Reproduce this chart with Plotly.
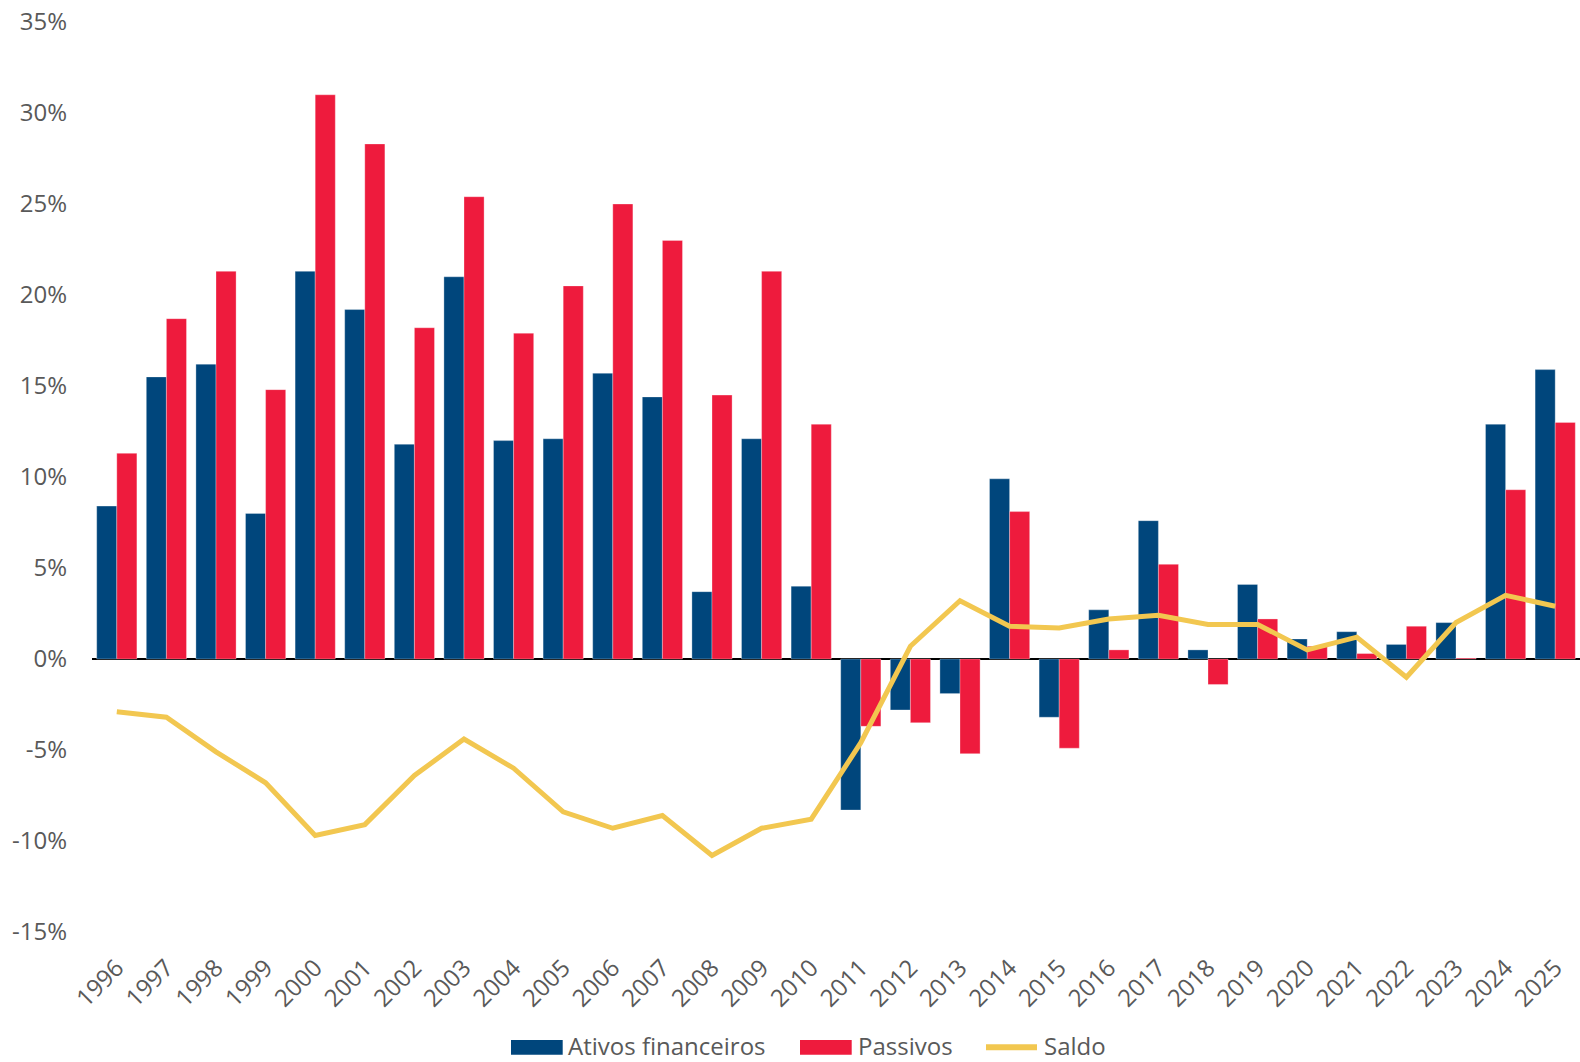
import plotly.graph_objects as go

years = [str(y) for y in range(1996, 2026)]

ativos = [8.4, 15.5, 16.2, 8.0, 21.3, 19.2, 11.8, 21.0, 12.0, 12.1, 15.7, 14.4, 3.7, 12.1, 4.0,
          -8.3, -2.8, -1.9, 9.9, -3.2, 2.7, 7.6, 0.5, 4.1, 1.1, 1.5, 0.8, 2.0, 12.9, 15.9]
passivos = [11.3, 18.7, 21.3, 14.8, 31.0, 28.3, 18.2, 25.4, 17.9, 20.5, 25.0, 23.0, 14.5, 21.3, 12.9,
            -3.7, -3.5, -5.2, 8.1, -4.9, 0.5, 5.2, -1.4, 2.2, 0.7, 0.3, 1.8, 0.05, 9.3, 13.0]
saldo = [-2.9, -3.2, -5.1, -6.8, -9.7, -9.1, -6.4, -4.4, -6.0, -8.4, -9.3, -8.6, -10.8, -9.3, -8.8,
         -4.6, 0.7, 3.2, 1.8, 1.7, 2.2, 2.4, 1.9, 1.9, 0.5, 1.2, -1.0, 2.0, 3.5, 2.9]

series_names = ["Ativos financeiros", "Passivos", "Saldo"]

ytick_vals = [-15, -10, -5, 0, 5, 10, 15, 20, 25, 30, 35]
ytick_text = ["-15%", "-10%", "-5%", "0%", "5%", "10%", "15%", "20%", "25%", "30%", "35%"]

BLUE = "#00467C"
RED = "#EE1B3D"
YELLOW = "#F2C750"
GRAY = "#595959"
FONT = "Open Sans"
FS = 24

# figure geometry (body margin removed so the figure fills the window)
W, H = 1580, 1062
ML, MR, MT, MB = 92, 0, 22, 130
PW, PH = W - ML - MR, H - MT - MB
LEG_UP = 6  # keep legend texts inside the page


def px(xpage):
    return (xpage - ML) / PW


def py(ypage):
    return (H - MB - ypage) / PH


fig = go.Figure()
fig.add_trace(go.Bar(x=years, y=ativos, name=series_names[0], showlegend=False,
                     marker=dict(color=BLUE, line=dict(color="rgba(255,255,255,0.5)", width=0.6))))
fig.add_trace(go.Bar(x=years, y=passivos, name=series_names[1], showlegend=False,
                     marker=dict(color=RED, line=dict(color="rgba(255,255,255,0.5)", width=0.6))))
fig.add_trace(go.Scatter(x=years, y=saldo, name=series_names[2], mode="lines", showlegend=False,
                         line=dict(color=YELLOW, width=5)))

# custom legend (wide swatches like the original)
ly_top, ly_bot, ly_mid, ly_txt = 1046 - LEG_UP, 1060.7 - LEG_UP, 1053.3 - LEG_UP, 1051.5 - LEG_UP
shapes = [
    dict(type="rect", xref="paper", yref="paper", x0=px(511), x1=px(562.7), y0=py(ly_bot), y1=py(ly_top),
         fillcolor=BLUE, line=dict(width=0)),
    dict(type="rect", xref="paper", yref="paper", x0=px(800), x1=px(851.7), y0=py(ly_bot), y1=py(ly_top),
         fillcolor=RED, line=dict(width=0)),
    dict(type="line", xref="paper", yref="paper", x0=px(986), x1=px(1037), y0=py(ly_mid), y1=py(ly_mid),
         line=dict(color=YELLOW, width=6)),
]
annotations = [
    dict(text=series_names[0], xref="paper", yref="paper", x=px(566), y=py(ly_txt),
         xanchor="left", yanchor="middle", showarrow=False, font=dict(size=FS, color=GRAY, family=FONT)),
    dict(text=series_names[1], xref="paper", yref="paper", x=px(856), y=py(ly_txt),
         xanchor="left", yanchor="middle", showarrow=False, font=dict(size=FS, color=GRAY, family=FONT)),
    dict(text=series_names[2], xref="paper", yref="paper", x=px(1041.5), y=py(ly_txt),
         xanchor="left", yanchor="middle", showarrow=False, font=dict(size=FS, color=GRAY, family=FONT)),
]

fig.update_layout(
    width=W, height=H,
    margin=dict(l=ML, r=MR, t=MT, b=MB),
    paper_bgcolor="white", plot_bgcolor="white",
    font=dict(family=FONT, size=FS, color=GRAY),
    barmode="group", bargap=0.19, bargroupgap=0,
    showlegend=False,
    shapes=shapes, annotations=annotations,
    xaxis=dict(type="category", tickangle=-45, showgrid=False, showline=False,
               ticks="", ticklabelstandoff=16, automargin=False, ticklabeloverflow="allow",
               tickfont=dict(size=FS, color=GRAY)),
    yaxis=dict(range=[-15, 35], tickvals=ytick_vals, ticktext=ytick_text,
               showgrid=False, showline=False, zeroline=True, zerolinecolor="black",
               zerolinewidth=2, ticks="", ticklabelstandoff=24, automargin=False,
               ticklabeloverflow="allow",
               tickfont=dict(size=FS, color=GRAY)),
)

fig.write_html("out.html",
               config={"displayModeBar": False},
               post_script="document.body.style.margin='0';document.body.style.padding='0';"
                           "document.body.style.overflow='hidden';")
